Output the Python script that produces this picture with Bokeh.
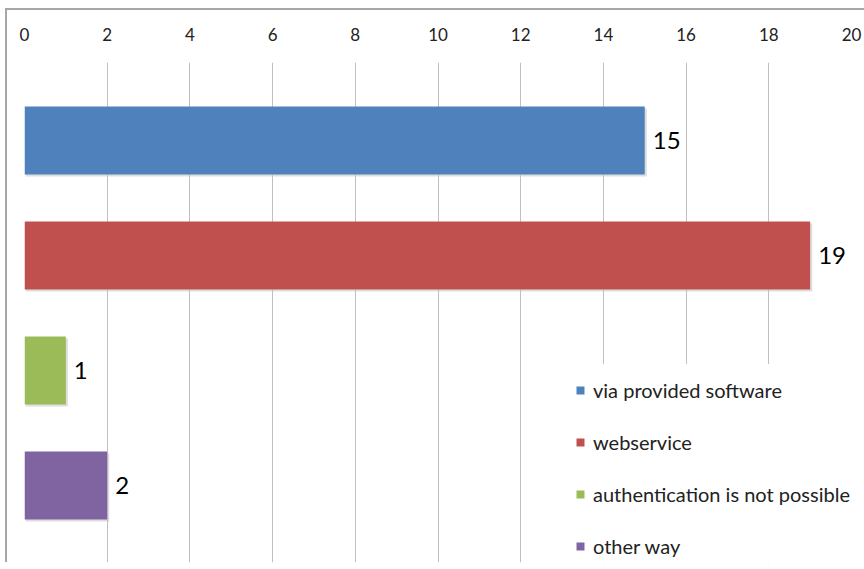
from bokeh.plotting import figure
from bokeh.models import ColumnDataSource, Range1d, FixedTicker, Legend, LegendItem
from bokeh.core.properties import value
from bokeh.embed import file_html
from bokeh.resources import INLINE

# ---- data ----
categories = ["via provided software", "webservice", "authentication is not possible", "other way"]
counts = [15, 19, 1, 2]
colors = ["#4F81BD", "#C0504D", "#9BBB59", "#8064A2"]
x_ticks = [0, 2, 4, 6, 8, 10, 12, 14, 16, 18, 20]

FONT = "Lato"

positions = list(range(len(categories)))
src = ColumnDataSource(dict(
    y=positions, count=counts, color=colors, cat=categories,
    label=[str(c) for c in counts],
))
# faint drop shadow (style only: slight offset of the same bars)
shadow = ColumnDataSource(dict(
    y=[v + 0.018 for v in positions],
    right=[c + 0.05 for c in counts],
))

p = figure(width=864, height=569, output_backend="svg", toolbar_location=None,
           x_range=Range1d(0, 20), y_range=Range1d(3.67, -0.678),
           x_axis_location="above", y_axis_location=None,
           min_border_left=24, min_border_right=13, min_border_top=62, min_border_bottom=7)

p.styles = {
    "background": "linear-gradient(#a6a6a6,#a6a6a6) 5px 8px / 2px 554px no-repeat, "
                  "linear-gradient(#a6a6a6,#a6a6a6) 5px 8px / 859px 2px no-repeat, #ffffff"
}
p.border_fill_alpha = 0
p.background_fill_color = "#ffffff"
p.outline_line_color = None

# grid
p.xgrid.ticker = FixedTicker(ticks=x_ticks)
p.xgrid.grid_line_color = "#c0c0c0"
p.xgrid.grid_line_width = 1
p.ygrid.visible = False

# top axis
ax = p.xaxis[0]
ax.ticker = FixedTicker(ticks=x_ticks)
ax.axis_line_color = None
ax.major_tick_line_color = None
ax.minor_tick_line_color = None
ax.major_tick_out = 0
ax.major_tick_in = 0
ax.major_label_standoff = 22
ax.major_label_text_font = FONT
ax.major_label_text_font_size = "17px"
ax.major_label_text_color = "#222222"

p.hbar(y="y", right="right", left=0.03, height=0.59, fill_color="#c8c8c8",
       fill_alpha=0.6, line_color=None, source=shadow)

bars = p.hbar(y="y", right="count", left=0, height=0.59, fill_color="color",
              line_color=None, source=src)

p.text(x="count", y="y", text="label", x_offset=8, text_align="left",
       text_baseline="middle", text_font=value(FONT), text_font_size="24px",
       text_color="#000000", source=src)

items = [LegendItem(label=c, renderers=[bars], index=i) for i, c in enumerate(categories)]
legend = Legend(items=items, location=(551, -10), orientation="vertical",
                glyph_width=10, glyph_height=10, label_standoff=8,
                label_text_font=FONT, label_text_font_size="20px",
                label_text_color="#222222", label_height=52, label_width=272,
                spacing=0, padding=0, margin=0, border_line_color=None,
                background_fill_color="#ffffff", background_fill_alpha=1.0)
p.add_layout(legend)

open("out.html", "w").write(file_html(p, INLINE))
